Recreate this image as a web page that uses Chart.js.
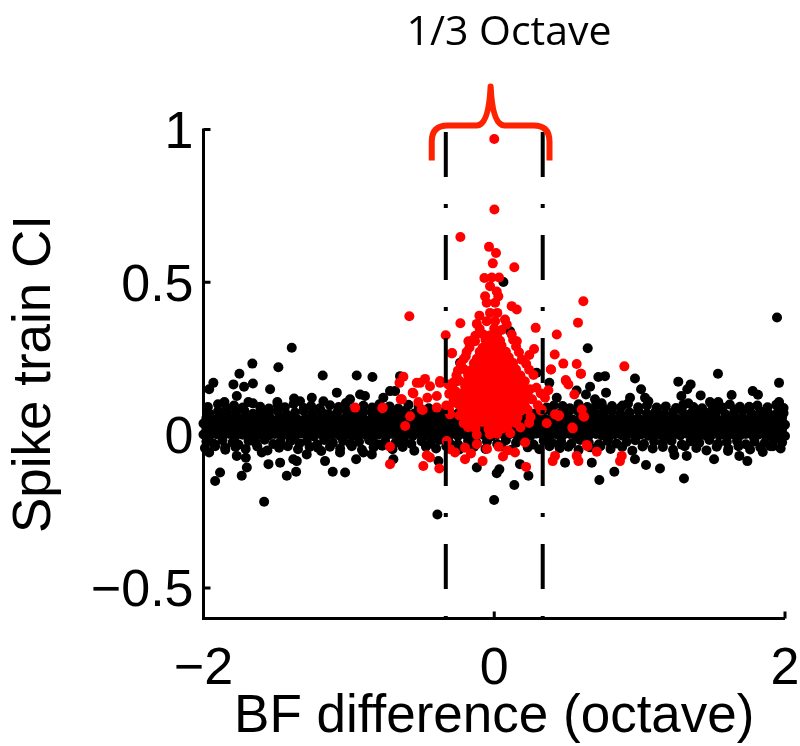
<!DOCTYPE html>
<html>
<head>
<meta charset="utf-8">
<script src="https://cdn.jsdelivr.net/npm/chart.js@4.4.0/dist/chart.umd.min.js"></script>
<style>
body { margin: 0; background: #fff; }
</style>
</head>
<body>
<canvas id="myChart" width="800" height="746"></canvas>
<script>
// tick values
var xTicks = [-2, 0, 2];
var yTicks = [-0.5, 0, 0.5, 1];
// dashed lines at +/- 1/6 octave around BF
var bandEdges = [-1/3, 1/3];

// black: the dense band around 0, row by row
var blackBandLow = [[-1.98,-0.021],[-1.93,-0.028],[-1.87,-0.017],[-1.80,-0.024],[-1.76,-0.031],[-1.69,-0.019],[-1.64,-0.026],[-1.58,-0.015],[-1.52,-0.029],[-1.47,-0.022],[-1.40,-0.018],[-1.34,-0.027],[-1.29,-0.020],[-1.22,-0.031],[-1.17,-0.016],[-1.11,-0.025],[-1.04,-0.019],[-0.99,-0.028],[-0.93,-0.022],[-0.86,-0.017],[-0.80,-0.030],[-0.75,-0.021],[-0.68,-0.026],[-0.62,-0.018],[-0.57,-0.029],[-0.50,-0.020],[-0.44,-0.027],[-0.38,-0.016],[-0.31,-0.024],[-0.25,-0.030],[-0.18,-0.019],[-0.12,-0.026],[-0.05,-0.021],[0.02,-0.029],[0.08,-0.017],[0.15,-0.025],[0.21,-0.020],[0.27,-0.031],[0.34,-0.018],[0.40,-0.026],[0.46,-0.021],[0.53,-0.028],[0.59,-0.016],[0.65,-0.024],[0.72,-0.030],[0.78,-0.019],[0.84,-0.027],[0.91,-0.022],[0.97,-0.017],[1.03,-0.029],[1.10,-0.021],[1.16,-0.026],[1.22,-0.018],[1.29,-0.031],[1.35,-0.020],[1.41,-0.025],[1.48,-0.016],[1.54,-0.028],[1.60,-0.022],[1.67,-0.019],[1.73,-0.030],[1.79,-0.021],[1.86,-0.026],[1.92,-0.018],[1.98,-0.024]];
var blackBandMid1 = [[-2.00,0.002],[-1.96,-0.004],[-1.91,0.003],[-1.87,-0.002],[-1.82,0.004],[-1.78,-0.003],[-1.73,0.001],[-1.69,0.005],[-1.64,-0.004],[-1.60,0.002],[-1.55,-0.001],[-1.51,0.004],[-1.46,-0.003],[-1.42,0.003],[-1.37,-0.002],[-1.33,0.005],[-1.28,0.000],[-1.24,-0.004],[-1.19,0.003],[-1.15,-0.001],[-1.10,0.004],[-1.06,-0.003],[-1.01,0.002],[-0.97,-0.002],[-0.92,0.005],[-0.88,0.000],[-0.83,-0.004],[-0.79,0.003],[-0.74,-0.001],[-0.70,0.004],[-0.65,-0.003],[-0.61,0.002],[-0.56,-0.002],[-0.52,0.004],[-0.47,0.000],[-0.43,-0.004],[-0.38,0.003],[-0.34,-0.001],[-0.29,0.004],[-0.25,-0.003],[-0.20,0.002],[-0.16,-0.002],[-0.11,0.004],[-0.07,0.000],[-0.02,-0.004],[0.02,0.003],[0.07,-0.001],[0.11,0.004],[0.16,-0.003],[0.20,0.002],[0.25,-0.002],[0.29,0.005],[0.34,0.000],[0.38,-0.004],[0.43,0.003],[0.47,-0.001],[0.52,0.004],[0.56,-0.003],[0.61,0.002],[0.65,-0.002],[0.70,0.004],[0.74,0.000],[0.79,-0.004],[0.83,0.003],[0.88,-0.001],[0.92,0.004],[0.97,-0.003],[1.01,0.002],[1.06,-0.002],[1.10,0.005],[1.15,0.000],[1.19,-0.004],[1.24,0.003],[1.28,-0.001],[1.33,0.004],[1.37,-0.003],[1.42,0.002],[1.46,-0.002],[1.51,0.004],[1.55,0.000],[1.60,-0.004],[1.64,0.003],[1.69,-0.001],[1.73,0.004],[1.78,-0.003],[1.82,0.002],[1.87,-0.002],[1.91,0.005],[1.96,0.000],[2.00,-0.003]];
var blackBandMid2 = [[-1.98,0.021],[-1.93,0.015],[-1.89,0.019],[-1.84,0.022],[-1.80,0.014],[-1.75,0.018],[-1.71,0.020],[-1.66,0.016],[-1.62,0.022],[-1.57,0.017],[-1.53,0.013],[-1.48,0.020],[-1.44,0.019],[-1.39,0.015],[-1.35,0.022],[-1.30,0.018],[-1.26,0.016],[-1.21,0.021],[-1.17,0.014],[-1.12,0.019],[-1.08,0.020],[-1.03,0.017],[-0.99,0.022],[-0.94,0.015],[-0.90,0.018],[-0.85,0.021],[-0.81,0.016],[-0.76,0.019],[-0.72,0.014],[-0.67,0.020],[-0.63,0.022],[-0.58,0.017],[-0.54,0.018],[-0.49,0.015],[-0.45,0.021],[-0.40,0.019],[-0.36,0.016],[-0.31,0.022],[-0.27,0.018],[-0.22,0.014],[-0.18,0.020],[-0.13,0.017],[-0.09,0.021],[-0.04,0.015],[0.00,0.019],[0.05,0.018],[0.09,0.022],[0.14,0.016],[0.18,0.020],[0.23,0.014],[0.27,0.019],[0.32,0.021],[0.36,0.017],[0.41,0.018],[0.45,0.015],[0.50,0.022],[0.54,0.019],[0.59,0.016],[0.63,0.020],[0.68,0.018],[0.72,0.014],[0.77,0.021],[0.81,0.017],[0.86,0.019],[0.90,0.022],[0.95,0.015],[0.99,0.018],[1.04,0.020],[1.08,0.016],[1.13,0.021],[1.17,0.019],[1.22,0.014],[1.26,0.018],[1.31,0.022],[1.35,0.017],[1.40,0.020],[1.44,0.015],[1.49,0.019],[1.53,0.021],[1.58,0.016],[1.62,0.018],[1.67,0.022],[1.71,0.014],[1.76,0.020],[1.80,0.017],[1.85,0.019],[1.89,0.021],[1.94,0.015],[1.98,0.018]];
var blackBandMid3 = [[-2.00,0.038],[-1.96,0.033],[-1.91,0.039],[-1.87,0.035],[-1.82,0.032],[-1.78,0.038],[-1.73,0.036],[-1.69,0.031],[-1.64,0.039],[-1.60,0.034],[-1.55,0.037],[-1.51,0.033],[-1.46,0.039],[-1.42,0.035],[-1.37,0.032],[-1.33,0.038],[-1.28,0.034],[-1.24,0.039],[-1.19,0.033],[-1.15,0.037],[-1.10,0.035],[-1.06,0.031],[-1.01,0.038],[-0.97,0.036],[-0.92,0.033],[-0.88,0.039],[-0.83,0.034],[-0.79,0.037],[-0.74,0.032],[-0.70,0.038],[-0.65,0.035],[-0.61,0.039],[-0.56,0.033],[-0.52,0.036],[-0.47,0.031],[-0.43,0.038],[-0.38,0.034],[-0.34,0.037],[-0.29,0.033],[-0.25,0.039],[-0.20,0.035],[-0.16,0.032],[-0.11,0.038],[-0.07,0.034],[-0.02,0.037],[0.02,0.033],[0.07,0.039],[0.11,0.035],[0.16,0.031],[0.20,0.038],[0.25,0.034],[0.29,0.037],[0.34,0.032],[0.38,0.038],[0.43,0.035],[0.47,0.039],[0.52,0.033],[0.56,0.036],[0.61,0.032],[0.65,0.038],[0.70,0.034],[0.74,0.037],[0.79,0.033],[0.83,0.039],[0.88,0.035],[0.92,0.031],[0.97,0.038],[1.01,0.034],[1.06,0.037],[1.10,0.033],[1.15,0.039],[1.19,0.035],[1.24,0.032],[1.28,0.038],[1.33,0.034],[1.37,0.037],[1.42,0.033],[1.46,0.039],[1.51,0.035],[1.55,0.031],[1.60,0.038],[1.64,0.034],[1.69,0.037],[1.73,0.032],[1.78,0.038],[1.82,0.035],[1.87,0.039],[1.91,0.033],[1.96,0.036],[2.00,0.034]];
var blackBandMid4 = [[-1.98,0.056],[-1.93,0.051],[-1.89,0.057],[-1.84,0.053],[-1.80,0.050],[-1.75,0.055],[-1.71,0.058],[-1.66,0.052],[-1.62,0.054],[-1.57,0.057],[-1.53,0.051],[-1.48,0.055],[-1.44,0.053],[-1.39,0.058],[-1.35,0.050],[-1.30,0.054],[-1.26,0.056],[-1.21,0.052],[-1.17,0.057],[-1.12,0.053],[-1.08,0.051],[-1.03,0.055],[-0.99,0.058],[-0.94,0.052],[-0.90,0.054],[-0.85,0.050],[-0.81,0.056],[-0.76,0.053],[-0.72,0.057],[-0.67,0.051],[-0.63,0.055],[-0.58,0.052],[-0.54,0.058],[-0.49,0.054],[-0.45,0.050],[-0.40,0.056],[-0.36,0.053],[-0.31,0.057],[-0.27,0.051],[-0.22,0.055],[-0.18,0.052],[-0.13,0.058],[-0.09,0.054],[-0.04,0.050],[0.00,0.056],[0.05,0.053],[0.09,0.057],[0.14,0.051],[0.18,0.055],[0.23,0.052],[0.27,0.058],[0.32,0.054],[0.36,0.050],[0.41,0.056],[0.45,0.053],[0.50,0.057],[0.54,0.051],[0.59,0.055],[0.63,0.052],[0.68,0.058],[0.72,0.054],[0.77,0.050],[0.81,0.056],[0.86,0.053],[0.90,0.057],[0.95,0.051],[0.99,0.055],[1.04,0.052],[1.08,0.058],[1.13,0.054],[1.17,0.050],[1.22,0.056],[1.26,0.053],[1.31,0.057],[1.35,0.051],[1.40,0.055],[1.44,0.052],[1.49,0.058],[1.53,0.054],[1.58,0.050],[1.62,0.056],[1.67,0.053],[1.71,0.057],[1.76,0.051],[1.80,0.055],[1.85,0.052],[1.89,0.058],[1.94,0.054],[1.98,0.056]];
var blackBandHigh = [[-1.96,0.071],[-1.90,0.078],[-1.84,0.069],[-1.78,0.075],[-1.72,0.081],[-1.66,0.070],[-1.61,0.076],[-1.55,0.072],[-1.49,0.079],[-1.43,0.068],[-1.37,0.074],[-1.31,0.080],[-1.25,0.071],[-1.19,0.077],[-1.14,0.069],[-1.08,0.075],[-1.02,0.082],[-0.96,0.070],[-0.90,0.076],[-0.84,0.072],[-0.78,0.079],[-0.72,0.068],[-0.67,0.074],[-0.61,0.080],[-0.55,0.071],[-0.49,0.077],[-0.43,0.069],[-0.37,0.075],[-0.31,0.072],[-0.25,0.071],[-0.19,0.077],[0.21,0.074],[0.27,0.070],[0.33,0.073],[0.39,0.079],[0.45,0.070],[0.51,0.076],[0.57,0.081],[0.63,0.069],[0.69,0.075],[0.75,0.072],[0.81,0.078],[0.87,0.068],[0.93,0.074],[0.99,0.080],[1.05,0.071],[1.11,0.077],[1.17,0.069],[1.23,0.075],[1.29,0.081],[1.35,0.070],[1.41,0.076],[1.47,0.072],[1.53,0.079],[1.59,0.068],[1.65,0.074],[1.71,0.080],[1.77,0.071],[1.83,0.077],[1.89,0.069],[1.95,0.075],[1.99,0.072]];

// black: ragged edges just above and below the band
var blackFringe = [[-1.97,0.092],[-1.90,0.101],[-1.84,0.088],[-1.79,0.097],[-1.73,0.090],[-1.66,0.104],[-1.61,0.093],[-1.55,0.087],[-1.49,0.099],[-1.44,0.091],[-1.38,0.102],[-1.31,0.089],[-1.26,0.095],[-1.20,0.088],[-1.13,0.098],[-1.07,0.092],[-1.02,0.105],[-0.96,0.089],[-0.90,0.096],[-0.84,0.090],[-0.79,0.101],[-0.72,0.094],[-0.66,0.087],[-0.59,0.099],[-0.52,0.093],[-0.45,0.088],[0.36,0.090],[0.41,0.097],[0.47,0.095],[0.52,0.088],[0.58,0.101],[0.64,0.092],[0.70,0.098],[0.75,0.088],[0.81,0.095],[0.87,0.090],[0.92,0.103],[0.99,0.091],[1.05,0.097],[1.12,0.088],[1.18,0.094],[1.25,0.089],[1.30,0.099],[1.37,0.092],[1.43,0.088],[1.50,0.096],[1.57,0.090],[1.62,0.100],[1.69,0.093],[1.75,0.087],[1.81,0.097],[1.88,0.091],[1.94,0.099],[1.99,0.089],
  [-1.99,-0.042],[-1.92,-0.036],[-1.85,-0.048],[-1.78,-0.039],[-1.71,-0.045],[-1.63,-0.037],[-1.56,-0.050],[-1.48,-0.041],[-1.42,-0.036],[-1.35,-0.046],[-1.27,-0.039],[-1.19,-0.052],[-1.13,-0.038],[-1.06,-0.044],[-0.98,-0.036],[-0.91,-0.048],[-0.83,-0.040],[-0.77,-0.035],[-0.70,-0.046],[-0.63,-0.039],[-0.55,-0.051],[-0.47,-0.038],[-0.40,-0.044],[-0.33,-0.036],[-0.24,-0.047],[-0.14,-0.039],[-0.06,-0.045],[0.05,-0.037],[0.12,-0.048],[0.23,-0.040],[0.31,-0.046],[0.38,-0.036],[0.45,-0.043],[0.51,-0.038],[0.58,-0.049],[0.66,-0.040],[0.73,-0.036],[0.80,-0.045],[0.88,-0.039],[0.95,-0.051],[1.02,-0.037],[1.09,-0.044],[1.16,-0.039],[1.23,-0.048],[1.31,-0.036],[1.39,-0.042],[1.46,-0.050],[1.53,-0.038],[1.61,-0.045],[1.68,-0.036],[1.76,-0.047],[1.83,-0.040],[1.90,-0.036],[1.97,-0.044]];

// black: scattered points away from the band
var blackOutliers = [[-1.393,0.286],[-1.664,0.234],[-1.485,0.222],[-1.753,0.201],[-1.932,0.171],[-1.961,0.150],[-1.794,0.166],[-1.721,0.158],[-1.660,0.169],[-1.542,0.150],[-1.771,0.128],[-1.180,0.195],[-0.946,0.195],[-0.838,0.190],[-1.856,0.108],[-1.691,0.108],[-1.492,0.108],[-1.377,0.120],[-1.336,0.111],[-1.255,0.122],[-1.175,0.111],[-1.083,0.139],[-0.992,0.117],[-0.923,0.133],[-0.889,0.128],[-0.717,0.144],[-0.258,0.177],[-0.235,0.237],[0.063,0.501],[0.109,0.340],[0.643,0.284],[0.292,0.204],[-0.648,0.193],[-0.682,0.144],[-0.763,0.122],
  [1.539,0.201],[1.959,0.171],[1.959,0.108],[1.266,0.175],[1.351,0.166],[1.328,0.150],[1.287,0.128],[1.420,0.130],[1.633,0.131],[1.778,0.144],[1.814,0.132],[1.754,0.093],[0.968,0.185],[1.010,0.150],[0.716,0.190],[0.762,0.193],[0.659,0.158],[0.631,0.133],[0.567,0.146],[0.379,0.171],[0.430,0.122],[0.769,0.139],[0.934,0.122],[1.037,0.122],[1.060,0.111],[1.484,0.108],[1.541,0.108],[1.335,0.104],[0.693,0.117],[0.739,0.104],[0.883,0.097],[1.117,0.090],[1.656,0.084],[1.869,0.079],[1.945,0.385],
  [-1.961,-0.057],[-1.886,-0.122],[-1.920,-0.150],[-1.737,-0.133],[-1.702,-0.106],[-1.709,-0.074],[-1.583,-0.218],[-1.553,-0.095],[-1.427,-0.133],[-1.363,-0.120],[-1.473,-0.090],[-1.358,-0.085],[-1.164,-0.085],[-1.111,-0.120],[-1.026,-0.122],[-1.214,-0.041],[-0.950,-0.079],[-0.842,-0.063],[-0.694,-0.079],[-0.384,-0.085],[-0.391,-0.260],[-0.120,-0.106],[-0.001,-0.212],[0.138,-0.163],[0.235,-0.133],[0.017,-0.125],[0.035,-0.112],[0.723,-0.147],[1.305,-0.142],[1.140,-0.109],[1.044,-0.098],[0.826,-0.120],[0.968,-0.079],[1.512,-0.079],[1.686,-0.068],[1.741,-0.085],[1.239,-0.065],[1.324,-0.068],[1.847,-0.055],[0.671,-0.090],[0.487,-0.090],[0.177,-0.095],[1.608,-0.052],[1.917,-0.036],[-1.851,-0.041],[-1.771,-0.068],[-1.599,-0.057],[-1.382,-0.079],[-1.290,-0.063],[-1.061,-0.057],[-0.900,-0.057]];

// red: dense core near BF difference 0
var redCore = [[-0.10,0.347],[0.00,0.349],[0.05,0.344],
  [-0.13,0.325],[-0.03,0.326],[0.02,0.331],[0.12,0.329],
  [-0.15,0.310],[-0.06,0.311],[-0.01,0.306],[0.04,0.309],[0.13,0.312],
  [-0.17,0.287],[-0.08,0.286],[-0.04,0.291],[0.01,0.288],[0.05,0.293],[0.15,0.290],
  [-0.19,0.272],[-0.10,0.273],[-0.06,0.268],[-0.01,0.271],[0.03,0.266],[0.08,0.273],[0.17,0.271],
  [-0.21,0.249],[-0.12,0.250],[-0.08,0.253],[-0.03,0.248],[0.01,0.252],[0.06,0.249],[0.10,0.255],[0.19,0.247],
  [-0.23,0.234],[-0.14,0.235],[-0.10,0.230],[-0.05,0.233],[-0.01,0.228],[0.04,0.234],[0.08,0.231],[0.13,0.236],[0.22,0.233],
  [-0.25,0.211],[-0.21,0.216],[-0.16,0.212],[-0.12,0.215],[-0.07,0.210],[-0.03,0.214],[0.02,0.211],[0.06,0.217],[0.11,0.212],[0.15,0.215],[0.24,0.214],
  [-0.26,0.196],[-0.18,0.197],[-0.13,0.192],[-0.09,0.195],[-0.04,0.190],[0.00,0.196],[0.05,0.193],[0.09,0.198],[0.14,0.191],[0.18,0.195],[0.27,0.197],
  [-0.28,0.173],[-0.24,0.178],[-0.19,0.174],[-0.15,0.177],[-0.10,0.172],[-0.06,0.176],[-0.01,0.173],[0.03,0.179],[0.08,0.174],[0.12,0.177],[0.17,0.172],[0.21,0.176],
  [-0.29,0.158],[-0.20,0.159],[-0.16,0.154],[-0.11,0.157],[-0.07,0.152],[-0.02,0.158],[0.02,0.155],[0.07,0.160],[0.11,0.153],[0.16,0.157],[0.20,0.154],[0.29,0.155],
  [-0.31,0.135],[-0.26,0.140],[-0.22,0.136],[-0.17,0.139],[-0.13,0.134],[-0.08,0.138],[-0.04,0.135],[0.01,0.141],[0.05,0.136],[0.10,0.139],[0.14,0.134],[0.19,0.138],[0.23,0.135],[0.32,0.136],
  [-0.28,0.115],[-0.23,0.121],[-0.19,0.116],[-0.14,0.119],[-0.10,0.114],[-0.05,0.120],[-0.01,0.117],[0.04,0.122],[0.08,0.115],[0.13,0.119],[0.17,0.116],[0.22,0.121],[0.26,0.117],
  [-0.33,0.097],[-0.24,0.098],[-0.20,0.101],[-0.15,0.096],[-0.11,0.100],[-0.06,0.097],[-0.02,0.103],[0.03,0.098],[0.07,0.101],[0.12,0.096],[0.16,0.100],[0.21,0.097],[0.30,0.098],
  [-0.31,0.082],[-0.22,0.083],[-0.18,0.078],[-0.13,0.081],[-0.09,0.076],[-0.04,0.082],[0.00,0.079],[0.05,0.084],[0.09,0.077],[0.14,0.081],[0.18,0.078],[0.23,0.083],[0.32,0.081],
  [-0.24,0.064],[-0.20,0.060],[-0.15,0.063],[-0.11,0.058],[-0.06,0.062],[-0.02,0.059],[0.03,0.065],[0.07,0.060],[0.12,0.063],[0.16,0.058],[0.25,0.059],
  [-0.21,0.039],[-0.17,0.045],[-0.12,0.040],[-0.08,0.043],[-0.03,0.038],[0.01,0.044],[0.06,0.041],[0.10,0.046],[0.15,0.039],[0.24,0.040],
  [-0.18,0.026],[-0.13,0.022],[-0.04,0.020],[0.00,0.024],[0.05,0.021],[0.09,0.027],[0.18,0.025],
  [-0.12,0.001],[-0.03,0.002],[0.02,0.005],[0.11,0.006]];

// red: the rest of the pairs within roughly one octave
var redScatter = [[0.000,0.969],[0.001,0.738],[-0.233,0.648],[-0.036,0.616],[0.012,0.596],[-0.010,0.562],[0.138,0.549],[-0.068,0.514],[-0.017,0.516],[0.033,0.516],[-0.029,0.487],[0.017,0.470],[-0.063,0.454],[0.028,0.454],[-0.052,0.433],[0.006,0.433],[0.120,0.422],[0.155,0.411],[-0.584,0.389],[-0.102,0.391],[-0.029,0.400],[0.021,0.400],[0.613,0.438],[0.576,0.368],[-0.233,0.366],[-0.120,0.364],[-0.052,0.373],[0.006,0.373],[0.074,0.378],[0.086,0.362],[0.285,0.351],[0.430,0.329],[-0.334,0.327],[-0.075,0.329],[0.017,0.318],[0.155,0.307],[-0.178,0.307],[-0.132,0.307],[0.274,0.282],[0.416,0.264],[0.475,0.234],[0.567,0.233],[0.597,0.201],[0.895,0.225],[-0.290,0.269],[-0.196,0.258],[0.241,0.262],[0.391,0.215],[0.492,0.180],[0.510,0.166],[0.551,0.133],[0.602,0.084],[0.613,0.062],[0.372,0.147],[0.349,0.122],[0.418,0.068],[0.441,0.062],[0.361,0.039],[0.537,0.025],
  [-0.625,0.191],[-0.476,0.184],[-0.533,0.171],[-0.442,0.160],[-0.373,0.171],[-0.316,0.166],[-0.556,0.136],[-0.395,0.128],[-0.636,0.117],[-0.522,0.108],[-0.579,0.062],[-0.613,0.030],[-0.499,0.084],[-0.717,-0.038],[0.212,-0.024],[0.636,-0.032],[-0.767,0.090],[-0.292,0.267],[-0.652,0.171],[-0.561,0.139],[-0.643,0.117],[-0.957,0.090],[-0.770,0.088],[-0.510,0.171],[-0.460,0.122],[-0.492,0.082],[-0.395,0.090],
  [-0.717,-0.095],[-0.464,-0.066],[-0.442,-0.073],[-0.488,-0.101],[-0.378,-0.109],[-0.327,-0.019],[-0.304,-0.046],[-0.270,-0.057],[-0.201,-0.041],[-0.201,-0.079],[-0.373,0.177],[-0.270,0.144],[-0.281,0.106],[-0.304,0.068],[0.595,0.201],[0.494,0.177],[0.446,0.065],[0.618,0.060],[0.540,0.022],[0.143,-0.057],[0.219,-0.104],[0.418,-0.068],[0.402,-0.085],[0.567,-0.068],[0.579,-0.085],[0.641,-0.036],[0.705,-0.054],[0.877,-0.068],[0.865,-0.085],[0.327,0.084],[0.389,0.215],[0.246,0.150],
  [-0.12,-0.030],[-0.05,-0.045],[0.03,-0.038],[0.09,-0.050],[-0.16,-0.060],[0.06,-0.070],[-0.08,-0.085]];

var blackAll = blackBandLow.concat(blackBandMid1, blackBandMid2, blackBandMid3, blackBandMid4, blackBandHigh, blackFringe, blackOutliers);
var redAll = redCore.concat(redScatter);

function tickText(v) {
  return (v < 0 ? '\u2212' : '') + Math.abs(v);
}

// axes drawn MATLAB style: thick lines, ticks pointing inward, plus the red brace
var axesPlugin = {
  id: 'axesInward',
  afterDatasetsDraw: function(chart) {
    var ctx = chart.ctx, a = chart.chartArea;
    var xs = chart.scales.x, ys = chart.scales.y;
    ctx.save();
    ctx.strokeStyle = '#000';
    ctx.lineWidth = 3;
    ctx.lineJoin = 'miter';
    ctx.beginPath();
    ctx.moveTo(a.left, a.top - 1);
    ctx.lineTo(a.left, a.bottom);
    ctx.lineTo(a.right, a.bottom);
    ctx.stroke();
    ctx.beginPath();
    yTicks.forEach(function(v) {
      var p = ys.getPixelForValue(v);
      ctx.moveTo(a.left, p); ctx.lineTo(a.left + 7, p);
    });
    xTicks.forEach(function(v) {
      var p = xs.getPixelForValue(v);
      ctx.moveTo(p, a.bottom); ctx.lineTo(p, a.bottom - 7);
    });
    ctx.stroke();

    // brace over the 1/3 octave window
    var L = xs.getPixelForValue(-0.43), R = xs.getPixelForValue(0.38), C = (L + R) / 2;
    var yb = a.top + 31, yh = a.top - 4, yt = a.top - 43;
    ctx.strokeStyle = '#ff2200';
    ctx.lineWidth = 6;
    ctx.lineJoin = 'round';
    ctx.beginPath();
    ctx.moveTo(L, yb);
    ctx.lineTo(L, yh + 16);
    ctx.quadraticCurveTo(L, yh, L + 16, yh);
    ctx.lineTo(C - 14, yh);
    ctx.quadraticCurveTo(C - 2, yh, C, yt);
    ctx.quadraticCurveTo(C + 2, yh, C + 14, yh);
    ctx.lineTo(R - 16, yh);
    ctx.quadraticCurveTo(R, yh, R, yh + 16);
    ctx.lineTo(R, yb);
    ctx.stroke();

    ctx.fillStyle = '#000';
    ctx.font = '41px "Open Sans"';
    ctx.textAlign = 'center';
    ctx.textBaseline = 'alphabetic';
    ctx.fillText('1/3 Octave', 509, 45);
    ctx.restore();
  }
};

var ctx = document.getElementById('myChart').getContext('2d');

var myChart = new Chart(ctx, {
  type: 'scatter',
  data: {
    datasets: [{
      type: 'line',
      data: [[bandEdges[0], 1], [bandEdges[0], -0.6]],
      borderColor: '#000', borderWidth: 4, borderDash: [45, 27, 4, 27], borderDashOffset: -2.5,
      pointRadius: 0, fill: false, order: 0, clip: false
    }, {
      type: 'line',
      data: [[bandEdges[1], 1], [bandEdges[1], -0.6]],
      borderColor: '#000', borderWidth: 4, borderDash: [45, 27, 4, 27], borderDashOffset: -2.5,
      pointRadius: 0, fill: false, order: 0, clip: false
    }, {
      data: redAll,
      pointBackgroundColor: '#ff0000', pointBorderColor: '#ff0000', pointBorderWidth: 0,
      pointRadius: 5, order: 1, clip: false
    }, {
      data: blackAll,
      pointBackgroundColor: '#000000', pointBorderColor: '#000000', pointBorderWidth: 0,
      pointRadius: 5, order: 2, clip: false
    }]
  },
  options: {
    responsive: false,
    animation: false,
    events: [],
    layout: { padding: { top: 129.5, right: 0, left: 0, bottom: 0 } },
    plugins: { legend: { display: false }, tooltip: { enabled: false } },
    scales: {
      x: {
        type: 'linear', min: -2, max: 2,
        afterBuildTicks: function(s) { s.ticks = xTicks.map(function(v) { return { value: v }; }); },
        afterFit: function(s) { s.height = 127.5; s.paddingLeft = 0; s.paddingRight = 15; },
        grid: { display: false, drawTicks: false },
        border: { display: false },
        ticks: { color: '#000', font: { family: 'Liberation Sans', size: 52 }, padding: 20, maxRotation: 0, callback: tickText },
        title: { display: true, text: 'BF difference (octave)', color: '#000', font: { family: 'Liberation Sans', size: 53 }, padding: { top: 0, bottom: -3 } }
      },
      y: {
        type: 'linear', min: -0.6, max: 1,
        afterBuildTicks: function(s) { s.ticks = yTicks.map(function(v) { return { value: v }; }); },
        afterFit: function(s) { s.width = 203.5; s.paddingTop = 0; s.paddingBottom = 0; },
        grid: { display: false, drawTicks: false },
        border: { display: false },
        ticks: { color: '#000', font: { family: 'Liberation Sans', size: 52 }, padding: 10, labelOffset: 4, callback: tickText },
        title: { display: true, text: 'Spike train CI', color: '#000', font: { family: 'Liberation Sans', size: 53 }, padding: { top: 4, bottom: 0 } }
      }
    }
  },
  plugins: [axesPlugin]
});
</script>
</body>
</html>
